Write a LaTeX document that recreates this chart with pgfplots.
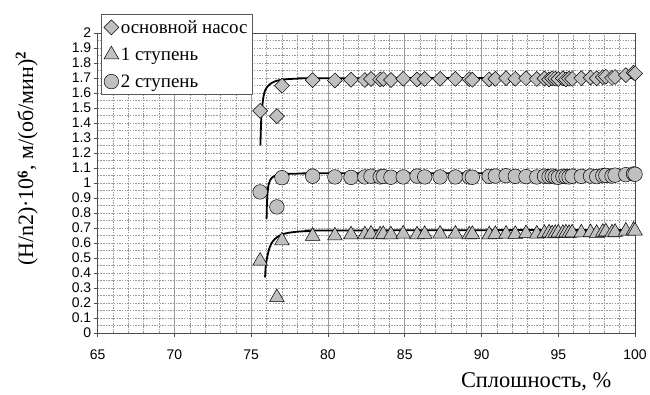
\documentclass[border=0pt]{standalone}
\usepackage{fontspec}
\setmainfont{Liberation Serif}
\setsansfont{Liberation Sans}
\usepackage{pgfplots}
\usepackage{pgfplotstable}
\pgfplotsset{compat=1.18}
\definecolor{mfill}{HTML}{C0C0C0}
\definecolor{gridc}{HTML}{9A9A9A}

\pgfplotstableread{
x y
75.58 1.48
76.67 1.445
77.0 1.648
79.0 1.685
80.45 1.683
81.5 1.688
82.4 1.686
82.8 1.693
83.4 1.690
83.6 1.692
84.1 1.686
84.9 1.694
85.8 1.690
86.3 1.693
87.3 1.694
88.3 1.694
89.2 1.692
89.4 1.688
90.5 1.690
90.9 1.694
91.6 1.698
92.2 1.694
92.9 1.698
93.6 1.693
94.1 1.696
94.4 1.690
94.6 1.697
94.8 1.695
95.0 1.693
95.3 1.697
95.5 1.690
95.7 1.695
95.9 1.693
96.5 1.698
97.1 1.702
97.5 1.697
97.9 1.705
98.1 1.708
98.5 1.700
98.7 1.706
99.4 1.718
99.9 1.735
100.0 1.730
}\tabA

\pgfplotstableread{
x y
75.58 0.48
76.67 0.237
77.0 0.615
79.0 0.645
80.45 0.648
81.5 0.655
82.4 0.655
82.8 0.660
83.4 0.655
83.6 0.658
84.1 0.655
84.9 0.660
85.8 0.655
86.3 0.658
87.3 0.660
88.3 0.660
89.2 0.655
89.4 0.658
90.5 0.655
90.9 0.658
91.6 0.660
92.2 0.658
92.9 0.663
93.6 0.660
94.1 0.665
94.4 0.668
94.6 0.662
94.8 0.665
95.0 0.668
95.3 0.665
95.5 0.668
95.7 0.665
95.9 0.668
96.5 0.668
97.1 0.670
97.5 0.665
97.9 0.672
98.1 0.675
98.5 0.668
98.7 0.672
99.4 0.680
99.9 0.685
100.0 0.680
}\tabB

\pgfplotstableread{
x y
75.58 0.94
76.67 0.84
77.0 1.035
79.0 1.045
80.45 1.040
81.5 1.037
82.4 1.040
82.8 1.045
83.4 1.040
83.6 1.043
84.1 1.038
84.9 1.040
85.8 1.046
86.3 1.040
87.3 1.040
88.3 1.040
89.2 1.040
89.4 1.038
90.5 1.044
90.9 1.046
91.6 1.048
92.2 1.044
92.9 1.042
93.6 1.040
94.1 1.045
94.4 1.042
94.6 1.046
94.8 1.040
95.0 1.038
95.3 1.044
95.5 1.042
95.7 1.040
95.9 1.045
96.5 1.044
97.1 1.046
97.5 1.042
97.9 1.048
98.1 1.050
98.5 1.046
98.7 1.052
99.4 1.055
99.9 1.060
100.0 1.058
}\tabC

\begin{document}
\begin{tikzpicture}
\path (-98pt,-62pt) rectangle (552pt,334pt);
\begin{axis}[
  at={(0pt,0pt)}, anchor=south west,
  scale only axis, width=539pt, height=301pt,
  xmin=65, xmax=100, ymin=0, ymax=2,
  xtick={65,70,75,80,85,90,95,100},
  ytick={0,0.1,0.2,0.3,0.4,0.5,0.6,0.7,0.8,0.9,1,1.1,1.2,1.3,1.4,1.5,1.6,1.7,1.8,1.9,2},
  minor x tick num=4, minor y tick num=1,
  minor tick length=0pt, major tick length=4pt,
  tick align=outside, tick pos=left,
  xmajorgrids, xminorgrids, ymajorgrids, yminorgrids,
  grid style={gridc, line width=0.6pt, solid},
  y grid style={dash pattern=on 1.5pt off 1.2pt},
  minor grid style={dash pattern=on 1.5pt off 1.2pt},
  axis line style={gray!60!black, line width=0.6pt},
  tick style={gray!60!black, line width=0.6pt},
  /pgf/number format/assume math mode=true,
  tick label style={font=\sffamily\fontsize{14}{15}\selectfont},
  yticklabel style={/pgf/number format/fixed, /pgf/number format/precision=1, xshift=1pt},
  xticklabel style={yshift=-9pt},
  xlabel={Сплошность, \%},
  xlabel style={font=\fontsize{22.5}{26}\selectfont, at={(axis description cs:0.816,-0.163)}, anchor=center},
  ylabel={(H/n2)·10\raisebox{0.55ex}{\fontsize{15}{16}\selectfont\textbf{6}}, м/(об/мин)\raisebox{0.75ex}{\fontsize{15}{16}\selectfont\textbf{2}}},
  ylabel style={font=\fontsize{22}{26}\selectfont, at={(axis description cs:-0.132,0.58)}, anchor=center},
  legend style={at={(axis description cs:0.0056,1.063)}, anchor=north west,
    draw=gray!70!black, fill=white, font=\fontsize{19}{20}\selectfont,
    row sep=9pt, inner xsep=3pt, inner ysep=4pt,
    /tikz/every even column/.append style={column sep=0pt}},
  legend cell align=left,
]
\addplot[only marks, mark=square*, mark size=5.3pt, mark options={rotate=45, fill=mfill, draw=black, line width=0.5pt}] table[x=x,y=y] {\tabA};
\addlegendentry{основной насос}
\addplot[only marks, mark=triangle*, mark size=8.5pt, mark options={fill=mfill, draw=black, line width=0.5pt}] table[x=x,y=y] {\tabB};
\addlegendentry{1 ступень}
\addplot[only marks, mark=*, mark size=7.3pt, mark options={fill=mfill, draw=black, line width=0.5pt}] table[x=x,y=y] {\tabC};
\addlegendentry{2 ступень}
\addplot[black, line width=1.8pt, smooth, forget plot] coordinates {
(75.6,1.25) (75.65,1.42) (75.75,1.54) (75.85,1.60) (76.0,1.635) (76.2,1.657) (76.5,1.675) (77,1.688) (78,1.695) (80,1.698) (100,1.70)};
\addplot[black, line width=1.8pt, smooth, forget plot] coordinates {
(76.0,0.76) (76.03,0.88) (76.1,0.97) (76.2,1.01) (76.35,1.035) (76.6,1.05) (77,1.058) (78,1.062) (80,1.064) (100,1.065)};
\addplot[black, line width=1.8pt, smooth, forget plot] coordinates {
(75.9,0.37) (75.95,0.45) (76.05,0.51) (76.2,0.57) (76.4,0.61) (76.7,0.64) (77.2,0.663) (78,0.675) (79,0.68) (80,0.683) (100,0.687)};
\end{axis}
\end{tikzpicture}
\end{document}
